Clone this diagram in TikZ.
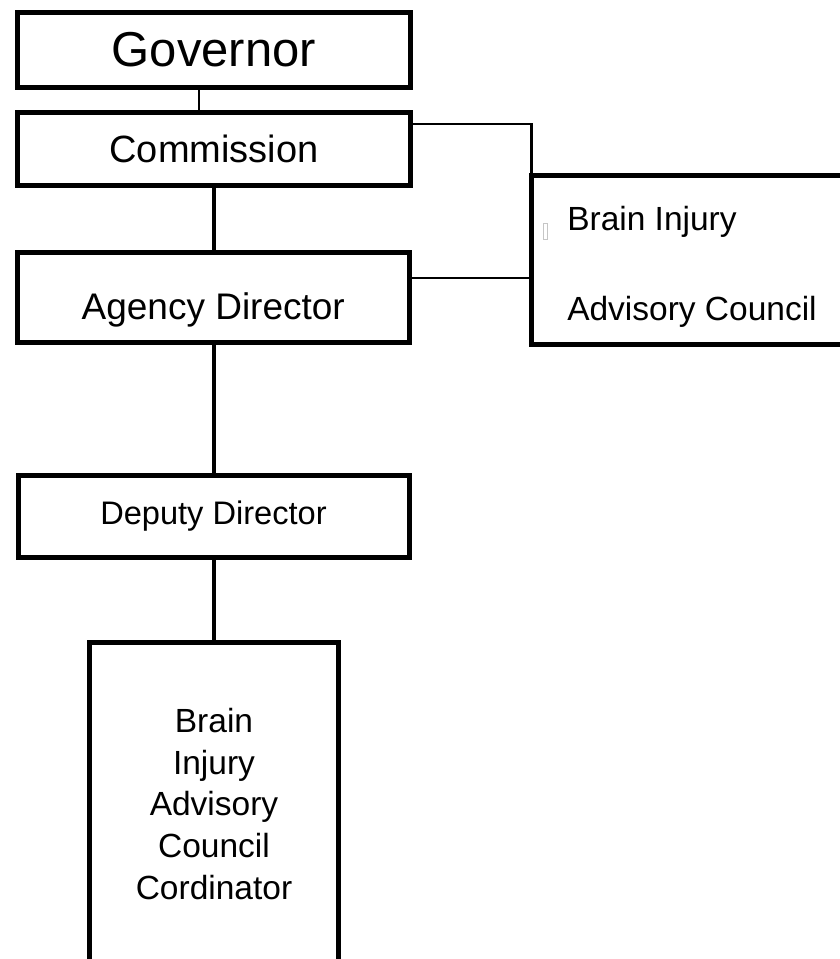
\documentclass[tikz,border=0pt]{standalone}
\usepackage{fontspec}
\setmainfont{Liberation Sans}

\begin{document}
\begin{tikzpicture}[x=1pt,y=-1pt,
  box/.style={draw=black,line width=5pt,inner sep=0pt,outer sep=0pt,fill=white},
  link/.style={draw=black,line width=4pt},
  thinlink/.style={draw=black,line width=2.5pt}]
  \useasboundingbox (0,0) rectangle (840,959);
  % chain of boxes
  \node[box,minimum width=393pt,minimum height=75pt,font=\fontsize{49}{58}\selectfont] (gov) at (214,50) {Governor};
  \node[box,minimum width=393pt,minimum height=72.5pt,font=\fontsize{38}{46}\selectfont] (comm) at (214,148.75) {Commission};
  \node[box,minimum width=391.5pt,minimum height=90pt,font=\fontsize{37}{44}\selectfont] (agency) at (213.25,297) {\raisebox{-22pt}[0pt][0pt]{Agency Director}};
  \node[box,minimum width=391pt,minimum height=82pt,font=\fontsize{32.6}{40}\selectfont] (deputy) at (213.5,516.5) {Deputy Director};
  \node[box,minimum width=249pt,minimum height=323pt,align=center,font=\fontsize{33.5}{41.7}\selectfont] (coord) at (214,804) {Brain\\Injury\\Advisory\\Council\\Cordinator};
  \node[box,minimum width=321pt,minimum height=169.5pt,font=\fontsize{33.5}{40}\selectfont] (brain) at (692,259.75)
    {\raisebox{29.75pt}[0pt][0pt]{\begin{tabular}[t]{@{}l@{}}Brain Injury\\[50pt]Advisory Council\end{tabular}}};
  \draw[gray!45,line width=1pt] (543,223) rectangle (547,239);
  % connectors
  \coordinate (gc) at (199,100);
  \coordinate (cb) at (531.5,124);
  \coordinate (ab) at (531.5,278);
  \draw[thinlink] (gov.south -| gc) -- (comm.north -| gc);
  \draw[link] (comm.south) -- (comm.south |- agency.north);
  \draw[link] (agency.south -| comm.south) -- (deputy.north -| comm.south);
  \draw[link] (deputy.south -| comm.south) -- (coord.north -| comm.south);
  \draw[thinlink] (comm.east |- cb) -- (cb) -- (brain.north west);
  \draw[thinlink] (agency.east |- ab) -- (brain.west |- ab);
\end{tikzpicture}
\end{document}
